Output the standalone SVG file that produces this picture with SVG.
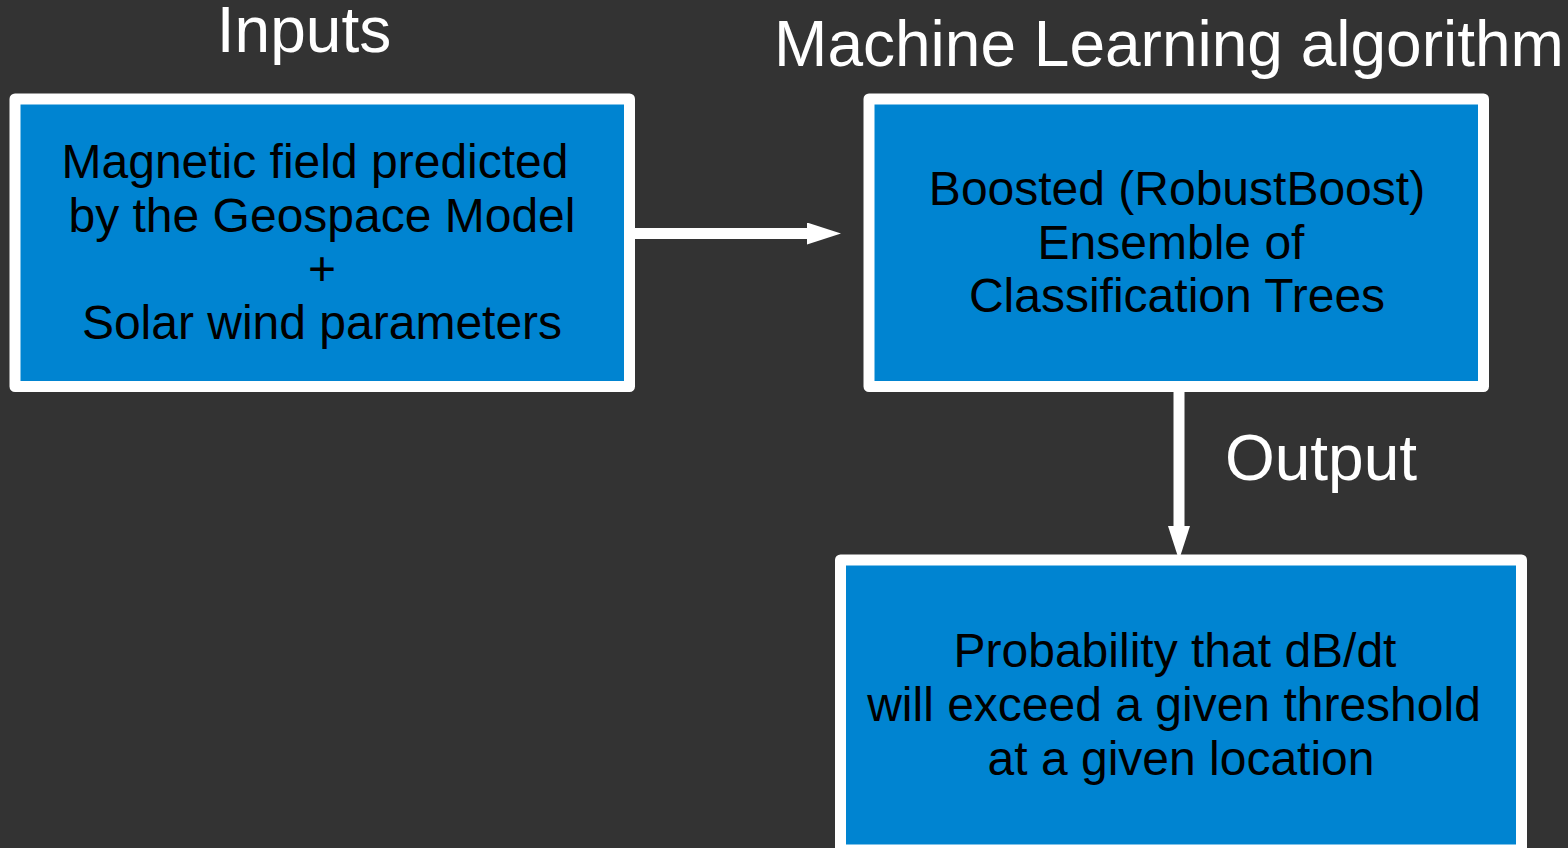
<svg xmlns="http://www.w3.org/2000/svg" width="1568" height="848" viewBox="0 0 1568 848">
<style>
.box{fill:#0084d1;stroke:#ffffff;stroke-width:11;stroke-linejoin:round}
.lbl{font-family:"Liberation Sans",Arial,sans-serif;font-size:48px;fill:#000000;text-anchor:middle}
.title{font-family:"Liberation Sans",Arial,sans-serif;font-size:64px;fill:#ffffff;text-anchor:middle}
.conn{stroke:#ffffff;stroke-width:11;fill:none}
</style>
<defs>
<marker id="ah" markerUnits="userSpaceOnUse" markerWidth="34" markerHeight="22" refX="0" refY="11" orient="auto" viewBox="0 0 34 22">
<path d="M0,0 L34,11 L0,22 Z" fill="#ffffff"/>
</marker>
</defs>
<rect width="1568" height="848" fill="#333333"/>
<text class="title" x="304" y="52">Inputs</text>
<text class="title" x="1169" y="66">Machine Learning algorithm</text>
<text class="title" x="1321" y="480">Output</text>
<g id="connectors">
<line class="conn" x1="630" y1="233.5" x2="807" y2="233.5" marker-end="url(#ah)"/>
<line class="conn" x1="1179" y1="386" x2="1179" y2="526" marker-end="url(#ah)"/>
</g>
<g id="inputs">
<rect class="box" x="15" y="99" width="614.5" height="287.5"/>
<text class="lbl" x="315" y="178">Magnetic field predicted</text>
<text class="lbl" x="322" y="232">by the Geospace Model</text>
<text class="lbl" x="322" y="285">+</text>
<text class="lbl" x="322" y="339">Solar wind parameters</text>
</g>
<g id="ml">
<rect class="box" x="869" y="99" width="614.5" height="287.5"/>
<text class="lbl" x="1177" y="205">Boosted (RobustBoost)</text>
<text class="lbl" x="1171" y="259">Ensemble of</text>
<text class="lbl" x="1177" y="312">Classification Trees</text>
</g>
<g id="output">
<rect class="box" x="840.5" y="560" width="681" height="290"/>
<text class="lbl" x="1175" y="667">Probability that dB/dt</text>
<text class="lbl" x="1174" y="721">will exceed a given threshold</text>
<text class="lbl" x="1181" y="775">at a given location</text>
</g>
</svg>
